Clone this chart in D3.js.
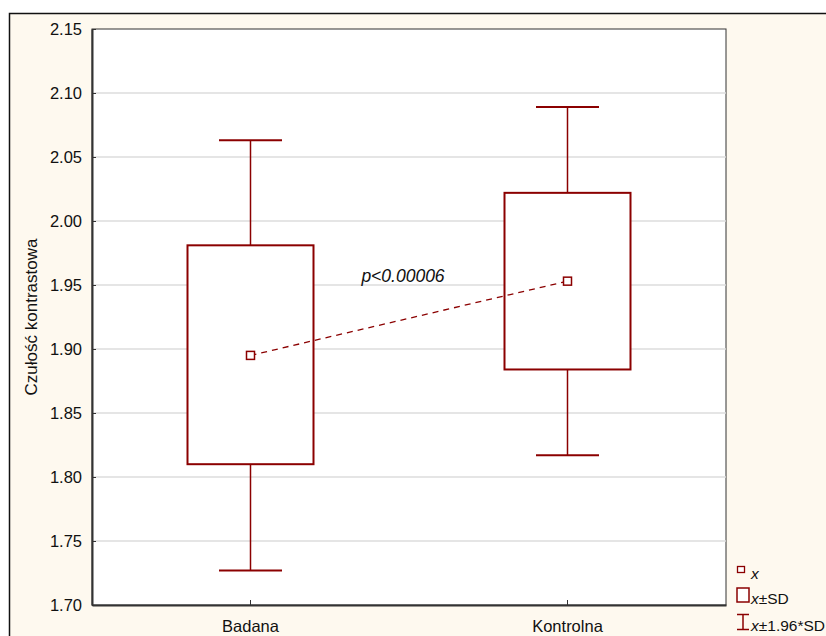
<!DOCTYPE html>
<html>
<head>
<meta charset="utf-8">
<script src="https://cdn.jsdelivr.net/npm/d3@7"></script>
<style>
  body { margin: 0; background: #fff; }
  svg text { font-family: Arial, "Liberation Sans", sans-serif; }
</style>
</head>
<body>
<div id="chart"></div>
<script>
/**
 * CONSTANTS AND DATA
 * */
const width = 826,
  height = 636,
  margin = { top: 29, bottom: 31, left: 92, right: 100 };

const groups = ["Badana", "Kontrolna"];
const means = [1.895, 1.953];
const sdLow = [1.810, 1.884];
const sdHigh = [1.981, 2.022];
const ciLow = [1.727, 1.817];
const ciHigh = [2.063, 2.089];
const yTicks = [1.70, 1.75, 1.80, 1.85, 1.90, 1.95, 2.00, 2.05, 2.10, 2.15];
const pLabel = "p<0.00006";
const yTitle = "Czułość kontrastowa";
const legendLabels = ["x", "x±SD", "x±1.96*SD"];

const red = "#8b0000";

const svg = d3.select("#chart")
  .append("svg")
  .attr("width", width)
  .attr("height", height);

// outer cream frame
svg.append("rect")
  .attr("x", 9.5).attr("y", 13.5)
  .attr("width", width).attr("height", height)
  .attr("fill", "#fef9ef")
  .attr("stroke", "#111")
  .attr("stroke-width", 1.5);

/**********/
/* SCALES */
/**********/
const x = d3.scaleBand()
  .domain(groups)
  .range([margin.left, width - margin.right])
  .paddingInner(0)
  .paddingOuter(0);

const y = d3.scaleLinear()
  .domain([1.70, 2.15])
  .range([height - margin.bottom, margin.top]);

const cx = d => x(d) + x.bandwidth() / 2;

// plot area
svg.append("rect")
  .attr("x", margin.left).attr("y", margin.top)
  .attr("width", width - margin.right - margin.left)
  .attr("height", height - margin.bottom - margin.top)
  .attr("fill", "#fff")
  .attr("stroke", "#333")
  .attr("stroke-width", 1);

// grid
svg.append("g")
  .selectAll("line")
  .data(yTicks.slice(1, -1))
  .join("line")
  .attr("x1", margin.left).attr("x2", width - margin.right)
  .attr("y1", d => y(d)).attr("y2", d => y(d))
  .attr("stroke", "#dcdcdc")
  .attr("stroke-width", 1.5);

/********/
/* AXES */
/********/
const yAxis = svg.append("g")
  .attr("transform", `translate(${margin.left},0)`)
  .call(d3.axisLeft(y).tickValues(yTicks).tickFormat(d3.format(".2f")).tickSizeInner(-4).tickSizeOuter(0).tickPadding(10));
yAxis.select(".domain").attr("stroke", "#333").attr("stroke-width", 2);
yAxis.selectAll(".tick line").attr("stroke", "#333");
yAxis.selectAll("text").attr("font-size", 16.5).attr("fill", "#111");

const xAxis = svg.append("g")
  .attr("transform", `translate(0,${height - margin.bottom})`)
  .call(d3.axisBottom(x).tickSizeInner(-5).tickSizeOuter(0).tickPadding(15));
xAxis.select(".domain").attr("stroke", "#333").attr("stroke-width", 2);
xAxis.selectAll(".tick line").attr("stroke", "#333");
xAxis.selectAll("text").attr("font-size", 16.5).attr("fill", "#111");

svg.append("text")
  .attr("transform", `translate(37,${(margin.top + height - margin.bottom) / 2}) rotate(-90)`)
  .attr("text-anchor", "middle")
  .attr("font-size", 17)
  .attr("fill", "#111")
  .text(yTitle);

/*************/
/* BOX PLOTS */
/*************/
const boxHalf = 63, capHalf = 31.5;
const g = svg.append("g");

groups.forEach((grp, i) => {
  const c = cx(grp);
  // whiskers
  g.append("line").attr("x1", c).attr("x2", c)
    .attr("y1", y(ciHigh[i])).attr("y2", y(sdHigh[i]))
    .attr("stroke", red).attr("stroke-width", 1.5);
  g.append("line").attr("x1", c).attr("x2", c)
    .attr("y1", y(sdLow[i])).attr("y2", y(ciLow[i]))
    .attr("stroke", red).attr("stroke-width", 1.5);
  [ciHigh[i], ciLow[i]].forEach(v => {
    g.append("line").attr("x1", c - capHalf).attr("x2", c + capHalf)
      .attr("y1", y(v)).attr("y2", y(v))
      .attr("stroke", red).attr("stroke-width", 2);
  });
  // box
  g.append("rect")
    .attr("x", c - boxHalf).attr("y", y(sdHigh[i]))
    .attr("width", boxHalf * 2).attr("height", y(sdLow[i]) - y(sdHigh[i]))
    .attr("fill", "#fff").attr("stroke", red).attr("stroke-width", 2);
});

// dashed line between means
g.append("path")
  .attr("d", d3.line().x((d, i) => cx(groups[i])).y(d => y(d))(means))
  .attr("fill", "none")
  .attr("stroke", red)
  .attr("stroke-width", 1.3)
  .attr("stroke-dasharray", "6,5");

g.selectAll("rect.mean")
  .data(means)
  .join("rect")
  .attr("class", "mean")
  .attr("x", (d, i) => cx(groups[i]) - 4)
  .attr("y", d => y(d) - 4)
  .attr("width", 8).attr("height", 8)
  .attr("fill", "#fff").attr("stroke", red).attr("stroke-width", 1.5);

svg.append("text")
  .attr("x", 403).attr("y", 282)
  .attr("text-anchor", "middle")
  .attr("font-size", 17.5)
  .attr("font-style", "italic")
  .attr("fill", "#111")
  .text(pLabel);

/**********/
/* LEGEND */
/**********/
const lg = svg.append("g");
lg.append("rect").attr("x", 737.5).attr("y", 566.5).attr("width", 7).attr("height", 6)
  .attr("fill", "#fff").attr("stroke", red).attr("stroke-width", 1.3);
lg.append("rect").attr("x", 737).attr("y", 588).attr("width", 12).attr("height", 14)
  .attr("fill", "#fff").attr("stroke", red).attr("stroke-width", 1.5);
lg.append("line").attr("x1", 743).attr("x2", 743).attr("y1", 614).attr("y2", 630)
  .attr("stroke", red).attr("stroke-width", 1.5);
lg.append("line").attr("x1", 737).attr("x2", 749).attr("y1", 614.5).attr("y2", 614.5)
  .attr("stroke", red).attr("stroke-width", 1.5);
lg.append("line").attr("x1", 737).attr("x2", 749).attr("y1", 629.5).attr("y2", 629.5)
  .attr("stroke", red).attr("stroke-width", 1.5);

const legendY = [579, 604, 631];
legendLabels.forEach((t, i) => {
  const txt = lg.append("text")
    .attr("x", 751).attr("y", legendY[i])
    .attr("font-size", 15.5)
    .attr("fill", "#111");
  txt.append("tspan").attr("font-style", "italic").text("x");
  if (t.length > 1) txt.append("tspan").text(t.slice(1));
});
</script>
</body>
</html>
